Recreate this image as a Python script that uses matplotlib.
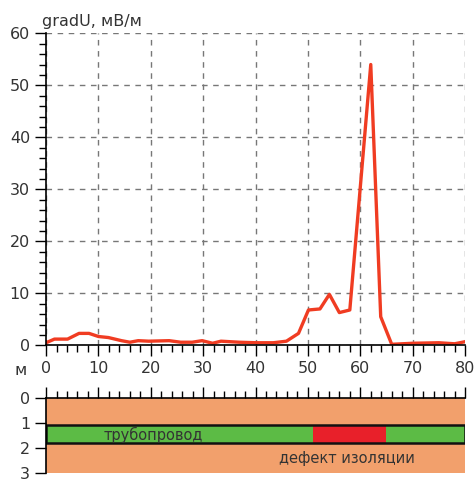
import numpy as np
import matplotlib
matplotlib.use('Agg')
from matplotlib import pyplot as plt
from matplotlib.ticker import MultipleLocator
from matplotlib.patches import Rectangle

# profile of gradU along the route
dist = [0, 1.6, 4.1, 6.3, 8.2, 10, 11.9, 14.4, 16, 17.6, 19.6, 23.5, 25.7, 27.9,
        29.8, 31.8, 33.4, 36.9, 40.2, 43.4, 45.9, 48.2, 50.1, 52.3, 54.1, 56.0,
        58.0, 62.0, 63.9, 66.0, 70, 75, 78, 80]
grad_u = [0.5, 1.2, 1.2, 2.3, 2.3, 1.7, 1.5, 0.9, 0.6, 0.9, 0.8, 0.9, 0.6, 0.6,
          0.9, 0.4, 0.8, 0.6, 0.5, 0.5, 0.8, 2.3, 6.8, 7.0, 9.8, 6.3,
          6.8, 54, 5.5, 0.2, 0.4, 0.5, 0.3, 0.7]

# section view
pipe_top, pipe_bottom = 1.05, 1.8
defect_start, defect_end = 51, 65
soil_depth = 3

txt = '#333333'
plt.rcParams['font.family'] = ['DejaVu Sans']

fig = plt.figure(figsize=(4.75, 4.83), dpi=100)
ax = fig.add_axes([0.097, 0.285, 0.882, 0.646])
ax2 = fig.add_axes([0.097, 0.02, 0.882, 0.155])

ax.plot(dist, grad_u, color='#f03c22', lw=2.4, solid_joinstyle='round')
ax.set_xlim(0, 80)
ax.set_ylim(0, 60)
ax.xaxis.set_major_locator(MultipleLocator(10))
ax.xaxis.set_minor_locator(MultipleLocator(2))
ax.yaxis.set_major_locator(MultipleLocator(10))
ax.yaxis.set_minor_locator(MultipleLocator(2))
ax.grid(True, which='major', ls=(0, (4, 4)), color='#777777', lw=1)
for s in ['top', 'right']:
    ax.spines[s].set_visible(False)
for s in ['left', 'bottom']:
    ax.spines[s].set_linewidth(1.2)
ax.tick_params(which='major', length=8, width=1, labelsize=11.5, labelcolor=txt)
ax.tick_params(which='minor', length=5, width=1)
ax.set_axisbelow(True)
ax.text(-0.01, 1.015, 'gradU, мВ/м', transform=ax.transAxes, fontsize=11.5,
        color=txt, ha='left', va='bottom')
ax.text(-0.06, -0.08, 'м', transform=ax.transAxes, fontsize=11.5,
        color=txt, ha='center', va='center')

# soil cross-section
ax2.add_patch(Rectangle((0, 0), 80, soil_depth, facecolor='#f2a06c', edgecolor='none'))
ax2.add_patch(Rectangle((0, pipe_top), 80, pipe_bottom - pipe_top,
                        facecolor='#5cbb45', edgecolor='none'))
ax2.add_patch(Rectangle((defect_start, pipe_top), defect_end - defect_start,
                        pipe_bottom - pipe_top, facecolor='#e8202a', edgecolor='none'))
ax2.add_patch(Rectangle((0, pipe_top), 80, pipe_bottom - pipe_top,
                        facecolor='none', edgecolor='#111111', lw=1.8))
ax2.text(20.5, 1.45, 'трубопровод', fontsize=10.5, color=txt, ha='center', va='center')
ax2.text(57.5, 2.4, 'дефект изоляции', fontsize=10.5, color=txt, ha='center', va='center')
ax2.set_xlim(0, 80)
ax2.set_ylim(soil_depth, 0)
ax2.xaxis.tick_top()
ax2.xaxis.set_major_locator(MultipleLocator(10))
ax2.xaxis.set_minor_locator(MultipleLocator(2))
ax2.set_xticklabels([])
ax2.set_yticks([0, 1, 2, 3])
for s in ['bottom', 'right']:
    ax2.spines[s].set_visible(False)
for s in ['left', 'top']:
    ax2.spines[s].set_linewidth(1.2)
ax2.tick_params(which='major', length=8, width=1, labelsize=11.5, labelcolor=txt)
ax2.tick_params(which='minor', length=5, width=1)

fig.savefig('out.png', dpi=100)
